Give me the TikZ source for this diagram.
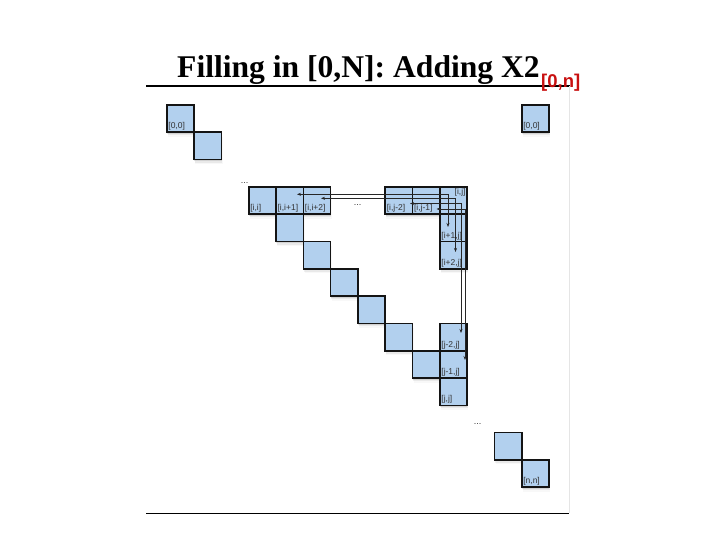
\documentclass[tikz,border=0pt]{standalone}
\usepackage{fontspec}
\setmainfont{Liberation Serif}
\newfontfamily\labfont{Liberation Sans}
\usetikzlibrary{shadows,arrows.meta}
\definecolor{cellblue}{RGB}{178,208,238}
\definecolor{subred}{RGB}{200,16,16}
\begin{document}
\begin{tikzpicture}[x=1pt,y=-1pt,
  cell/.style={draw=black!92, line width=1.6pt, fill=cellblue, minimum size=27.3pt,
    inner sep=0pt, outer sep=0pt,
    drop shadow={shadow xshift=0.3pt, shadow yshift=-1.5pt, opacity=0.22},
    drop shadow={shadow xshift=0.8pt, shadow yshift=-3pt, opacity=0.12},
    drop shadow={shadow xshift=1.2pt, shadow yshift=-4.5pt, opacity=0.06}},
  lab/.style={font=\labfont\fontsize{8.5}{9}\selectfont, text=black!80, inner sep=1.4pt},
  dotsnode/.style={font=\labfont\fontsize{9}{10}\selectfont, text=black!80, inner sep=0pt},
  arr/.style={line width=0.6pt, draw=black!85,
    {Stealth[length=4pt,width=3pt]}-{Stealth[length=4pt,width=3pt]}},
  frame/.style={line width=1.1pt, draw=black},
]
\useasboundingbox (0,0) rectangle (720,540);
% frame lines
\draw[frame] (146,86) -- (570,86);
\draw[frame, line width=0.9pt] (146,513.3) -- (569,513.3);
\draw[black!10, line width=0.6pt] (569.5,86) -- (569.5,513);
% title
\node[anchor=base west, inner sep=0pt, font=\bfseries\fontsize{31.6}{36}\selectfont] (title) at (177,78) {Filling in [0,N]: Adding X2};
\node[anchor=base west, inner sep=0pt, text=subred, font=\labfont\bfseries\fontsize{18.5}{20}\selectfont] (sub) at ([xshift=1pt,yshift=-9.8pt]title.base east) {[0,n]};
% cells: center = (180.45+27.3*col, 118.65+27.3*row)
\node[cell] (c00) at ({180.45+27.3*0},{118.65+27.3*0}) {};
\node[cell] (c0n) at ({180.45+27.3*13},{118.65+27.3*0}) {};
\node[cell] (c11) at ({180.45+27.3*1},{118.65+27.3*1}) {};
\node[cell] (cii)  at ({180.45+27.3*3},{118.65+27.3*3}) {};
\node[cell] (cii1) at ({180.45+27.3*4},{118.65+27.3*3}) {};
\node[cell] (cii2) at ({180.45+27.3*5},{118.65+27.3*3}) {};
\node[cell] (cij2) at ({180.45+27.3*8},{118.65+27.3*3}) {};
\node[cell] (cij1) at ({180.45+27.3*9},{118.65+27.3*3}) {};
\node[cell] (cij)  at ({180.45+27.3*10},{118.65+27.3*3}) {};
\node[cell] (d44) at ({180.45+27.3*4},{118.65+27.3*4}) {};
\node[cell] (ci1j) at ({180.45+27.3*10},{118.65+27.3*4}) {};
\node[cell] (d55) at ({180.45+27.3*5},{118.65+27.3*5}) {};
\node[cell] (ci2j) at ({180.45+27.3*10},{118.65+27.3*5}) {};
\node[cell] (d66) at ({180.45+27.3*6},{118.65+27.3*6}) {};
\node[cell] (d77) at ({180.45+27.3*7},{118.65+27.3*7}) {};
\node[cell] (d88) at ({180.45+27.3*8},{118.65+27.3*8}) {};
\node[cell] (cj2j) at ({180.45+27.3*10},{118.65+27.3*8}) {};
\node[cell] (d99) at ({180.45+27.3*9},{118.65+27.3*9}) {};
\node[cell] (cj1j) at ({180.45+27.3*10},{118.65+27.3*9}) {};
\node[cell] (cjj) at ({180.45+27.3*10},{118.65+27.3*10}) {};
\node[cell] (d1212) at ({180.45+27.3*12},{118.65+27.3*12}) {};
\node[cell] (cnn) at ({180.45+27.3*13},{118.65+27.3*13}) {};
% labels
\node[lab, anchor=south west] (l00) at (c00.south west) {[0,0]};
\node[lab, anchor=south west] (l0n) at (c0n.south west) {[0,0]};
\node[lab, anchor=south west] (lii) at (cii.south west) {[i,i]};
\node[lab, anchor=south west] (lii1) at (cii1.south west) {[i,i+1]};
\node[lab, anchor=south west] (lii2) at (cii2.south west) {[i,i+2]};
\node[lab, anchor=south west] (lij2) at (cij2.south west) {[i,j-2]};
\node[lab, anchor=south west] (lij1) at (cij1.south west) {[i,j-1]};
\node[lab, anchor=north east] (lij) at (cij.north east) {[i,j]};
\node[lab, anchor=south west] (li1j) at (ci1j.south west) {[i+1,j]};
\node[lab, anchor=south west] (li2j) at (ci2j.south west) {[i+2,j]};
\node[lab, anchor=south west] (lj2j) at (cj2j.south west) {[j-2,j]};
\node[lab, anchor=south west] (lj1j) at (cj1j.south west) {[j-1,j]};
\node[lab, anchor=south west] (ljj) at (cjj.south west) {[j,j]};
\node[lab, anchor=south west] (lnn) at (cnn.south west) {[n,n]};
% dots
\node[dotsnode, anchor=base] (dots1) at (244.5,183.5) {...};
\node[dotsnode, anchor=base] (dots2) at (357.5,206) {...};
\node[dotsnode, anchor=base] (dots3) at (477.5,424) {...};
% arrow ends
\coordinate (a1) at (297,194.3);   \coordinate (b1) at (448,227);
\coordinate (a2) at (321,198.3);   \coordinate (b2) at (455.5,252);
\coordinate (a3) at (410,203.5);   \coordinate (b3) at (461,333);
\coordinate (a4) at (436.5,209);   \coordinate (b4) at (465,360);
\draw[arr] (a1) -| (b1);
\draw[arr] (a2) -| (b2);
\draw[arr] (a3) -| (b3);
\draw[arr] (a4) -| (b4);
\end{tikzpicture}
\end{document}
